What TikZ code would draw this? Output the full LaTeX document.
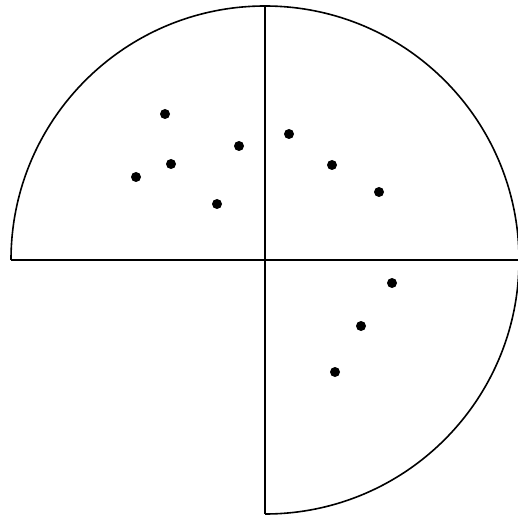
\documentclass[tikz,border=0pt]{standalone}
\usepackage{tikz}
\begin{document}
\begin{tikzpicture}[
 x=1pt,y=-1pt,
 rim/.style={line width=1.6pt},
 axis/.style={line width=2.2pt},
 pt/.style={circle,fill=black,inner sep=0pt,minimum size=10pt}
]
\useasboundingbox (0,0) rectangle (517,518);
\coordinate (o) at (265,260);
\coordinate (w) at (11,260);
\coordinate (e) at (519,260);
\coordinate (n) at (265,6);
\coordinate (s) at (265,514);
\draw[rim] (w) arc[start angle=180,end angle=450,radius=254];
\draw[axis] (w)--(e);
\draw[axis] (n)--(s);
\node[pt] (p1) at (165,114) {};
\node[pt] (p2) at (171,164) {};
\node[pt] (p3) at (136,177) {};
\node[pt] (p4) at (239,146) {};
\node[pt] (p5) at (217,204) {};
\node[pt] (p6) at (289,134) {};
\node[pt] (p7) at (332,165) {};
\node[pt] (p8) at (379,192) {};
\node[pt] (p9) at (392,283) {};
\node[pt] (p10) at (361,326) {};
\node[pt] (p11) at (335,372) {};
\end{tikzpicture}
\end{document}
